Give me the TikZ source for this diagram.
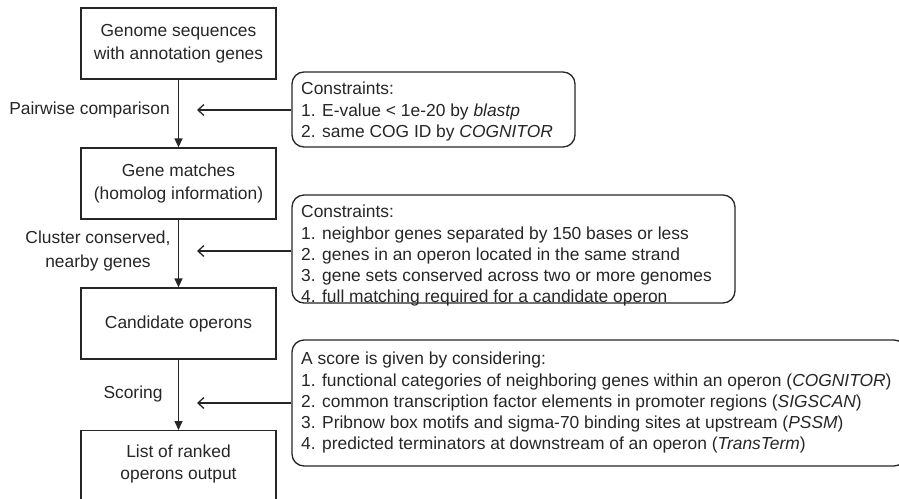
\documentclass[tikz,border=0pt]{standalone}
\usepackage{fontspec}
\setmainfont{Liberation Sans}
\usetikzlibrary{arrows.meta}
\definecolor{ink}{HTML}{262626}
\begin{document}
\begin{tikzpicture}[x=1pt,y=-1pt,
  font=\fontsize{17.4}{21.2}\selectfont,
  every node/.style={text=ink},
  stepbox/.style={draw=ink,line width=1.3pt,minimum width=195pt,minimum height=71pt,inner sep=0pt,align=center,font=\fontsize{17.4}{22.8}\selectfont},
  cbox/.style={draw=ink,line width=1.3pt,rounded corners=12pt,inner sep=0pt},
  ctext/.style={anchor=north west,align=left,inner sep=0pt},
  flow/.style={draw=ink,line width=1.3pt,-{Triangle[length=9pt,width=8pt]}},
  feed/.style={draw=ink,line width=1.3pt,-{Straight Barb[length=6pt,width=11pt]}},
  lab/.style={inner sep=0pt}
]
\useasboundingbox (0,0) rectangle (899,498);
\clip (0,0) rectangle (899,498);

% main boxes
\node[stepbox] (b1) at (178.5,43.5) {Genome sequences\\with annotation genes};
\node[stepbox] (b2) at (178.5,183.5) {Gene matches\\(homolog information)};
\node[stepbox] (b3) at (178.5,323.5) {Candidate operons};
\node[stepbox,minimum height=72pt,anchor=north] (b4) at (178.5,430) {};
\node[lab,align=center,font=\fontsize{17.4}{22.8}\selectfont] (b4t) at (178.5,464) {List of ranked\\operons output};

\draw[flow] (b1.south) -- (b2.north);
\draw[flow] (b2.south) -- (b3.north);
\draw[flow] (b3.south) -- (b4.north);

% constraint boxes
\node[cbox,minimum width=283pt,minimum height=75pt] (c1) at (433.5,109.5) {};
\node[ctext] (c1t) at (301,82) {Constraints:\\1. E-value < 1e-20 by \textit{blastp}\\2. same COG ID by \textit{COGNITOR}};

\node[cbox,minimum width=443pt,minimum height=108pt] (c2) at (513.5,249) {};
\node[ctext] (c2t) at (301,205) {Constraints:\\1. neighbor genes separated by 150 bases or less\\2. genes in an operon located in the same strand\\3. gene sets conserved across two or more genomes\\4. full matching required for a candidate operon};

\node[cbox,minimum width=614pt,minimum height=126pt] (c3) at (599,403) {};
\node[ctext] (c3t) at (301,352) {A score is given by considering:\\1. functional categories of neighboring genes within an operon (\textit{COGNITOR})\\2. common transcription factor elements in promoter regions (\textit{SIGSCAN})\\3. Pribnow box motifs and sigma-70 binding sites at upstream (\textit{PSSM})\\4. predicted terminators at downstream of an operon (\textit{TransTerm})};

% feedback arrows
\coordinate (e1) at (197,110);
\coordinate (e2) at (197,251);
\coordinate (e3) at (197,403);
\draw[feed] (c1.west |- e1) -- (e1);
\draw[feed] (c2.west |- e2) -- (e2);
\draw[feed] (c3.west |- e3) -- (e3);

% labels
\node[lab,anchor=east] (l1) at (170,110) {Pairwise comparison};
\node[lab,align=center,font=\fontsize{17.4}{24}\selectfont] (l2) at (98,251) {Cluster conserved,\\nearby genes};
\node[lab] (l3) at (133,394) {Scoring};
\end{tikzpicture}
\end{document}
